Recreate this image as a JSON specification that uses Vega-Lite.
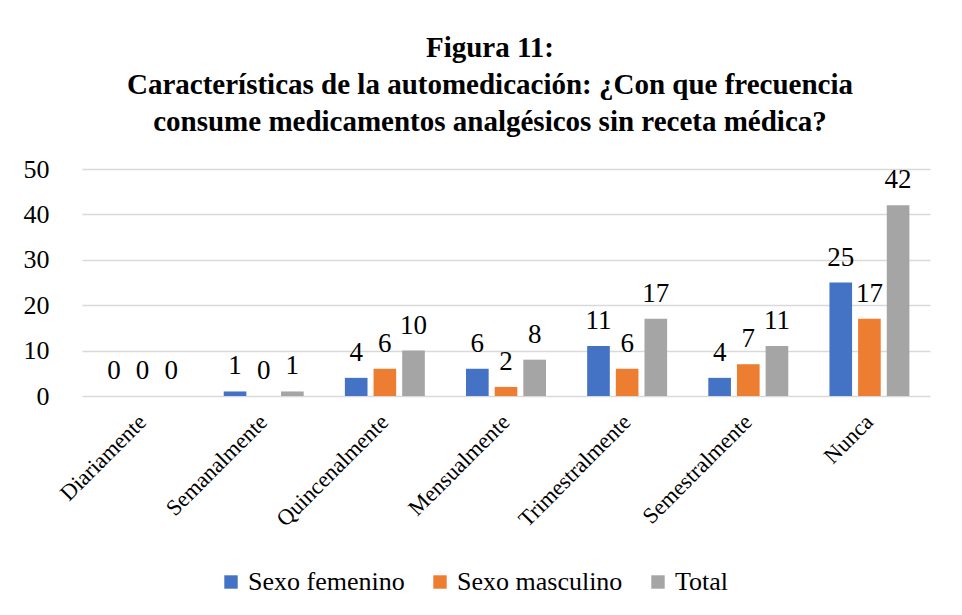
{
  "$schema": "https://vega.github.io/schema/vega-lite/v6.json",
  "width": 848,
  "height": 227,
  "autosize": "none",
  "padding": {"left": 82, "top": 169, "right": 32, "bottom": 219},
  "background": "white",
  "title": {
    "text": ["Figura 11:", "Características de la automedicación: ¿Con que frecuencia", "consume medicamentos analgésicos sin receta médica?"],
    "font": "Liberation Serif",
    "fontSize": 29,
    "fontWeight": "bold",
    "lineHeight": 37,
    "color": "black",
    "anchor": "middle",
    "dx": -16,
    "offset": 19
  },
  "data": {
    "values": [
      {"freq": "Diariamente", "serie": "Sexo femenino", "n": 0},
      {"freq": "Diariamente", "serie": "Sexo masculino", "n": 0},
      {"freq": "Diariamente", "serie": "Total", "n": 0},
      {"freq": "Semanalmente", "serie": "Sexo femenino", "n": 1},
      {"freq": "Semanalmente", "serie": "Sexo masculino", "n": 0},
      {"freq": "Semanalmente", "serie": "Total", "n": 1},
      {"freq": "Quincenalmente", "serie": "Sexo femenino", "n": 4},
      {"freq": "Quincenalmente", "serie": "Sexo masculino", "n": 6},
      {"freq": "Quincenalmente", "serie": "Total", "n": 10},
      {"freq": "Mensualmente", "serie": "Sexo femenino", "n": 6},
      {"freq": "Mensualmente", "serie": "Sexo masculino", "n": 2},
      {"freq": "Mensualmente", "serie": "Total", "n": 8},
      {"freq": "Trimestralmente", "serie": "Sexo femenino", "n": 11},
      {"freq": "Trimestralmente", "serie": "Sexo masculino", "n": 6},
      {"freq": "Trimestralmente", "serie": "Total", "n": 17},
      {"freq": "Semestralmente", "serie": "Sexo femenino", "n": 4},
      {"freq": "Semestralmente", "serie": "Sexo masculino", "n": 7},
      {"freq": "Semestralmente", "serie": "Total", "n": 11},
      {"freq": "Nunca", "serie": "Sexo femenino", "n": 25},
      {"freq": "Nunca", "serie": "Sexo masculino", "n": 17},
      {"freq": "Nunca", "serie": "Total", "n": 42}
    ]
  },
  "encoding": {
    "x": {
      "field": "freq",
      "type": "nominal",
      "sort": null,
      "scale": {"paddingInner": 0.34, "paddingOuter": 0.17},
      "axis": {
        "title": null,
        "labelAngle": -45,
        "labelAlign": "right",
        "labelBaseline": "middle",
        "labelFont": "Liberation Serif",
        "labelFontSize": 22.5,
        "labelColor": "black",
        "labelPadding": 22,
        "ticks": false,
        "domain": false
      }
    },
    "xOffset": {
      "field": "serie",
      "type": "nominal",
      "scale": {"paddingInner": 0.21, "paddingOuter": 0}
    },
    "y": {
      "field": "n",
      "type": "quantitative",
      "scale": {"domain": [0, 50], "nice": false},
      "axis": {
        "title": null,
        "values": [0, 10, 20, 30, 40, 50],
        "labelFont": "Liberation Serif",
        "labelFontSize": 26,
        "labelColor": "black",
        "labelPadding": 33,
        "ticks": false,
        "domain": false,
        "grid": true,
        "gridColor": "#D9D9D9",
        "gridWidth": 1.5
      }
    }
  },
  "layer": [
    {
      "mark": {"type": "bar"},
      "encoding": {
        "color": {
          "field": "serie",
          "type": "nominal",
          "scale": {"domain": ["Sexo femenino", "Sexo masculino", "Total"], "range": ["#4472C4", "#ED7D31", "#A5A5A5"]},
          "legend": {
            "title": null,
            "orient": "none",
            "legendX": 136,
            "legendY": 400,
            "direction": "horizontal",
            "symbolType": "square",
            "symbolSize": 180,
            "symbolStrokeWidth": 0,
            "labelFont": "Liberation Serif",
            "labelFontSize": 26,
            "labelColor": "black",
            "labelOffset": 4,
            "columnPadding": 22,
            "labelLimit": 300
          }
        }
      }
    },
    {
      "mark": {"type": "text", "baseline": "bottom", "dy": -11, "font": "Liberation Serif", "fontSize": 27, "color": "black"},
      "encoding": {"text": {"field": "n", "type": "quantitative"}}
    }
  ],
  "config": {
    "font": "Liberation Serif",
    "view": {"stroke": null}
  }
}
